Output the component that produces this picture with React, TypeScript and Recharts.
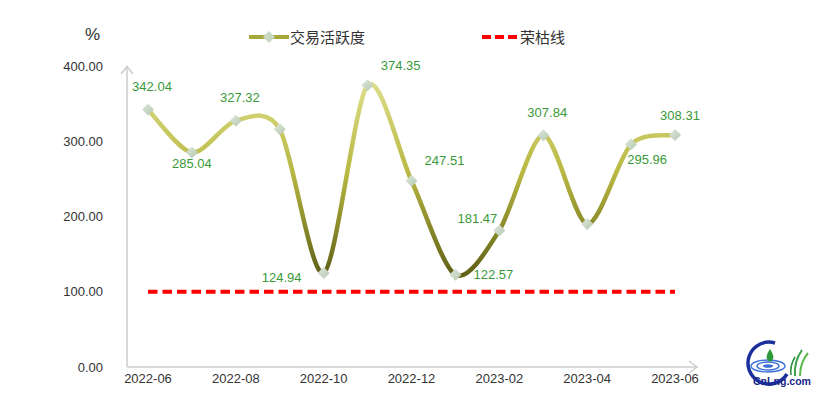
import React from 'react';
import { LineChart, Line, XAxis, YAxis, Legend, LabelList } from 'recharts';

// months shown on the category axis
const months = [
  '2022-06', '2022-07', '2022-08', '2022-09', '2022-10', '2022-11', '2022-12',
  '2023-01', '2023-02', '2023-03', '2023-04', '2023-05', '2023-06',
];

// 交易活跃度 (%)
const activity = [342.04, 285.04, 327.32, 316.0, 124.94, 374.35, 247.51, 122.57, 181.47, 307.84, 190.0, 295.96, 308.31];

// 荣枯线
const boomLine = [100, 100, 100, 100, 100, 100, 100, 100, 100, 100, 100, 100, 100];

// where each value label sits relative to its point (null = no label)
const labelSide = ['top', 'bottom', 'top', null, 'left', 'topRight', 'topRight', 'right', 'topLeft', 'top', null, 'bottomRight', 'topSmall'];

const yTicks = [0, 100, 200, 300, 400];

const chartData = months.map((m, i) => ({ month: m, activity: activity[i], boom: boomLine[i] }));

const sideOffset: Record<string, [number, number]> = {
  top: [4, -23],
  topSmall: [5, -19],
  bottom: [0, 11],
  left: [-42, 5],
  right: [38, 0],
  topRight: [33, -20],
  topLeft: [-22, -12],
  bottomRight: [16, 15],
};

// smooth curve through every point (Catmull-Rom style, like office charts)
function smoothCurve(context: any) {
  let pts: number[][] = [];
  const k = 7;
  return {
    areaStart() {},
    areaEnd() {},
    lineStart() {
      pts = [];
    },
    lineEnd() {
      if (!pts.length) return;
      context.moveTo(pts[0][0], pts[0][1]);
      for (let i = 0; i < pts.length - 1; i++) {
        const p0 = pts[Math.max(i - 1, 0)];
        const p1 = pts[i];
        const p2 = pts[i + 1];
        const p3 = pts[Math.min(i + 2, pts.length - 1)];
        context.bezierCurveTo(
          p1[0] + (p2[0] - p0[0]) / k,
          p1[1] + (p2[1] - p0[1]) / k,
          p2[0] - (p3[0] - p1[0]) / k,
          p2[1] - (p3[1] - p1[1]) / k,
          p2[0],
          p2[1],
        );
      }
    },
    point(x: number, y: number) {
      pts.push([+x, +y]);
    },
  };
}

const Diamond = (props: any) => {
  const { cx, cy, index } = props;
  if (cx == null || cy == null) return null;
  const r = 6;
  return (
    <polygon
      key={`d-${index}`}
      points={`${cx},${cy - r} ${cx + r},${cy} ${cx},${cy + r} ${cx - r},${cy}`}
      fill="url(#diamondFill)"
    />
  );
};

const ValueLabel = (props: any) => {
  const { x, y, value, index } = props;
  const side = labelSide[index];
  if (!side) return null;
  const [dx, dy] = sideOffset[side];
  return (
    <text
      x={x + dx}
      y={y + dy}
      textAnchor="middle"
      dominantBaseline="central"
      fontSize={13}
      fill="#3a9a3a"
      fontFamily="'Liberation Sans', Arial, sans-serif"
    >
      {Number(value).toFixed(2)}
    </text>
  );
};

const TopLegend = () => (
  <div style={{ position: 'relative', height: 24, fontFamily: "'Noto Sans CJK SC', sans-serif", fontSize: 15, color: '#333' }}>
    <div style={{ position: 'absolute', left: 85, top: 0, fontFamily: "'Liberation Sans', Arial, sans-serif", fontSize: 17 }}>%</div>
    <svg style={{ position: 'absolute', left: 249, top: 5 }} width={40} height={14}>
      <line x1={1} y1={7} x2={39} y2={7} stroke="#a8a83a" strokeWidth={4} strokeLinecap="round" />
      <polygon points="20,1 26,7 20,13 14,7" fill="#c9d8c5" />
    </svg>
    <div style={{ position: 'absolute', left: 290, top: 0, lineHeight: '24px' }}>交易活跃度</div>
    <svg style={{ position: 'absolute', left: 481, top: 5 }} width={38} height={14}>
      <line x1={1} y1={7} x2={37} y2={7} stroke="#ff0000" strokeWidth={4} strokeDasharray="9 4" />
    </svg>
    <div style={{ position: 'absolute', left: 520, top: 0, lineHeight: '24px' }}>荣枯线</div>
  </div>
);

export default function App() {
  return (
    <div style={{ position: 'absolute', left: 0, top: 0, width: 816, height: 396, background: '#fff' }}>
      <LineChart width={816} height={396} data={chartData} margin={{ top: 66, right: 119, left: 0, bottom: 0 }}>
        <defs>
          <linearGradient id="lineGrad" gradientUnits="userSpaceOnUse" x1={0} y1={85} x2={0} y2={280}>
            <stop offset="0%" stopColor="#dcdc88" />
            <stop offset="45%" stopColor="#b8b842" />
            <stop offset="100%" stopColor="#5c5c14" />
          </linearGradient>
          <linearGradient id="diamondFill" x1="0" y1="0" x2="1" y2="1">
            <stop offset="0%" stopColor="#dfe8dc" />
            <stop offset="100%" stopColor="#b4c8b0" />
          </linearGradient>
        </defs>
        <XAxis
          dataKey="month"
          interval={1}
          height={29}
          padding={{ left: 21, right: 22 }}
          axisLine={{ stroke: '#cccccc', strokeWidth: 1.5 }}
          tickLine={false}
          tickSize={0}
          tickMargin={7}
          tick={{ fill: '#333', fontSize: 13, fontFamily: "'Liberation Sans', Arial, sans-serif" }}
        />
        <YAxis
          domain={[0, 400]}
          ticks={yTicks}
          width={127}
          axisLine={{ stroke: '#cccccc', strokeWidth: 1.5 }}
          tickLine={false}
          tickSize={0}
          tickMargin={24}
          tickFormatter={(v: number) => v.toFixed(2)}
          tick={{ fill: '#333', fontSize: 13, fontFamily: "'Liberation Sans', Arial, sans-serif" }}
        />
        <Legend verticalAlign="middle" align="center" wrapperStyle={{ top: 25, left: 0, width: 816 }} content={() => <TopLegend />} />
        <Line
          dataKey="boom"
          stroke="#ff0000"
          strokeWidth={4}
          strokeDasharray="9.5 5"
          dot={false}
          activeDot={false}
          type="linear"
          isAnimationActive={false}
        />
        <Line
          dataKey="activity"
          type={smoothCurve as any}
          stroke="url(#lineGrad)"
          strokeWidth={4.5}
          dot={Diamond}
          activeDot={false}
          isAnimationActive={false}
        >
          <LabelList dataKey="activity" content={ValueLabel} />
        </Line>
      </LineChart>
      {/* axis arrow heads and site logo */}
      <svg style={{ position: 'absolute', left: 0, top: 0, pointerEvents: 'none' }} width={816} height={396}>
        <polyline points="121,74 127,66.5 133,74" fill="none" stroke="#cccccc" strokeWidth={1.5} />
        <polyline points="689,361 697,367 689,373" fill="none" stroke="#cccccc" strokeWidth={1.5} />
        <g>
          <path d="M 775 343 A 21 21 0 1 0 787 374" fill="none" stroke="#1a2f9c" strokeWidth={3.5} />
          <ellipse cx={768} cy={366} rx={17} ry={6} fill="none" stroke="#3b6fd8" strokeWidth={1.4} />
          <ellipse cx={768} cy={366} rx={11} ry={4} fill="none" stroke="#3b6fd8" strokeWidth={1.4} />
          <ellipse cx={768} cy={366} rx={5} ry={1.8} fill="#3b6fd8" />
          <path d="M 770 349 C 766 355 765 359 770 362 C 775 359 774 355 770 349 Z" fill="#2e9a3a" />
          <path d="M 795 376 C 794 365 797 357 802 350" fill="none" stroke="#3aa04a" strokeWidth={2} />
          <path d="M 800 376 C 800 366 803 359 808 353" fill="none" stroke="#5ab84a" strokeWidth={2} />
          <path d="M 791 375 C 790 368 792 362 795 357" fill="none" stroke="#2e9040" strokeWidth={1.6} />
          <text x={753} y={385} fontSize={11} fontWeight="bold" fill="#1a2a8c" textLength={58} lengthAdjust="spacingAndGlyphs" fontFamily="'Liberation Sans', Arial, sans-serif">CnLng.com</text>
        </g>
      </svg>
    </div>
  );
}
